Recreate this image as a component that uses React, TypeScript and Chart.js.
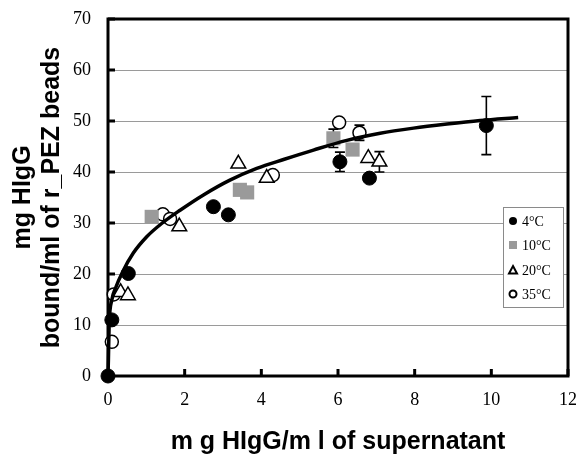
import React, { useEffect, useRef } from 'react';
import { Chart, registerables } from 'chart.js';

Chart.register(...registerables);

// ---- data ----
const xTickValues = [0, 2, 4, 6, 8, 10, 12];
const yTickValues = [0, 10, 20, 30, 40, 50, 60, 70];

const fitX = [0, 0.01, 0.03, 0.1, 0.2, 0.38, 0.66, 1.01, 1.4, 1.88, 2.49, 3.18, 3.88, 4.6, 5.36, 6.23, 7.1, 7.97, 8.84, 9.71, 10.7];
const fitY = [0, 3, 10, 14.9, 17.3, 20.4, 24.1, 27.3, 29.9, 32.5, 35.5, 38.4, 40.7, 42.5, 44.3, 46.2, 47.6, 48.6, 49.4, 50.1, 50.7];

const t4X = [0, 0.1, 0.53, 2.75, 3.14, 6.05, 6.82, 9.87];
const t4Y = [0, 11.0, 20.1, 33.2, 31.6, 42.0, 38.8, 49.1];
const t4Err = [0, 0, 0, 0, 0, 1.9, 0, 5.7];

const t10X = [1.14, 3.44, 3.63, 5.88, 6.38];
const t10Y = [31.2, 36.5, 36.0, 46.6, 44.4];
const t10Err = [0, 0, 0, 1.8, 0];

const t20X = [0.33, 0.52, 1.86, 3.4, 4.14, 6.79, 7.08];
const t20Y = [16.4, 15.8, 29.3, 41.6, 38.8, 42.7, 42.0];
const t20Err = [0, 0, 0, 0, 0, 0, 2.0];

const t35X = [0.1, 0.15, 1.43, 1.62, 4.3, 6.03, 6.56];
const t35Y = [6.7, 16.0, 31.7, 30.8, 39.4, 49.7, 47.7];
const t35Err = [0, 0, 0, 0, 0, 0, 1.5];

const seriesLabels = ['4°C', '10°C', '20°C', '35°C'];
const xTitle = 'm g HIgG/m l of supernatant';
const yTitle = ['mg HIgG', 'bound/ml of r_PEZ beads'];

const pts = (xs: number[], ys: number[]) => xs.map((x, i) => ({ x, y: ys[i] }));

const GRAY = '#9a9a9a';

const framePlugin = {
  id: 'frame',
  beforeDatasetsDraw(chart: any) {
    const { ctx, chartArea: a, scales } = chart;
    ctx.save();
    ctx.strokeStyle = '#000';
    ctx.lineWidth = 3;
    ctx.beginPath();
    xTickValues.forEach((v) => {
      const px = scales.x.getPixelForValue(v);
      ctx.moveTo(px, a.bottom);
      ctx.lineTo(px, a.bottom - 7);
    });
    yTickValues.forEach((v) => {
      const py = scales.y.getPixelForValue(v);
      ctx.moveTo(a.left, py);
      ctx.lineTo(a.left + 7, py);
    });
    ctx.stroke();
    ctx.lineWidth = 3;
    ctx.strokeRect(a.left, a.top, a.right - a.left, a.bottom - a.top);

    ctx.lineWidth = 1.6;
    chart.data.datasets.forEach((ds: any) => {
      if (!ds.errors) return;
      ds.data.forEach((p: any, i: number) => {
        const e = ds.errors[i];
        if (!e) return;
        const px = scales.x.getPixelForValue(p.x);
        const top = scales.y.getPixelForValue(p.y + e);
        const bot = scales.y.getPixelForValue(p.y - e);
        ctx.beginPath();
        ctx.moveTo(px, top);
        ctx.lineTo(px, bot);
        ctx.moveTo(px - 5, top);
        ctx.lineTo(px + 5, top);
        ctx.moveTo(px - 5, bot);
        ctx.lineTo(px + 5, bot);
        ctx.stroke();
      });
    });
    ctx.restore();
  },
};

const legendPlugin = {
  id: 'boxLegend',
  afterDraw(chart: any) {
    const { ctx, chartArea: a } = chart;
    const bx = a.right - 65;
    const by = a.top + 188;
    const bw = 60;
    const bh = 100;
    ctx.save();
    ctx.fillStyle = '#fff';
    ctx.fillRect(bx, by, bw, bh);
    ctx.strokeStyle = '#8a8a8a';
    ctx.lineWidth = 1;
    ctx.strokeRect(bx + 0.5, by + 0.5, bw, bh);
    const rows = [14, 38, 63, 87];
    ctx.font = '14px "Liberation Serif"';
    ctx.textBaseline = 'middle';
    ctx.textAlign = 'left';
    rows.forEach((dy, i) => {
      const cx = bx + 10;
      const cy = by + dy;
      ctx.beginPath();
      if (i === 0) {
        ctx.fillStyle = '#000';
        ctx.arc(cx, cy, 4, 0, Math.PI * 2);
        ctx.fill();
      } else if (i === 1) {
        ctx.fillStyle = GRAY;
        ctx.fillRect(cx - 4, cy - 4, 8, 8);
      } else if (i === 2) {
        ctx.strokeStyle = '#000';
        ctx.lineWidth = 2;
        ctx.moveTo(cx, cy - 4);
        ctx.lineTo(cx + 4, cy + 3.5);
        ctx.lineTo(cx - 4, cy + 3.5);
        ctx.closePath();
        ctx.stroke();
      } else {
        ctx.strokeStyle = '#000';
        ctx.lineWidth = 2;
        ctx.arc(cx, cy, 3.5, 0, Math.PI * 2);
        ctx.stroke();
      }
      ctx.fillStyle = '#000';
      ctx.fillText(seriesLabels[i], bx + 19, cy + 1);
    });
    ctx.restore();
  },
};

export default function App() {
  const ref = useRef<HTMLCanvasElement | null>(null);

  useEffect(() => {
    if (!ref.current) return;
    const chart = new Chart(ref.current, {
      type: 'scatter',
      data: {
        datasets: [
          {
            label: 'fit',
            data: pts(fitX, fitY),
            showLine: true,
            borderColor: '#000',
            borderWidth: 3.5,
            pointRadius: 0,
            cubicInterpolationMode: 'monotone',
            clip: false,
          } as any,
          {
            label: seriesLabels[0],
            data: pts(t4X, t4Y),
            errors: t4Err,
            pointStyle: 'circle',
            pointRadius: 7,
            backgroundColor: '#000',
            borderColor: '#000',
            borderWidth: 1,
            clip: false,
          } as any,
          {
            label: seriesLabels[1],
            data: pts(t10X, t10Y),
            errors: t10Err,
            pointStyle: 'rect',
            pointRadius: 10,
            backgroundColor: GRAY,
            borderColor: GRAY,
            borderWidth: 0,
            clip: false,
          } as any,
          {
            label: seriesLabels[2],
            data: pts(t20X, t20Y),
            errors: t20Err,
            pointStyle: 'triangle',
            pointRadius: 8.5,
            backgroundColor: '#fff',
            borderColor: '#000',
            borderWidth: 1.5,
            clip: false,
          } as any,
          {
            label: seriesLabels[3],
            data: pts(t35X, t35Y),
            errors: t35Err,
            pointStyle: 'circle',
            pointRadius: 6.5,
            backgroundColor: '#fff',
            borderColor: '#000',
            borderWidth: 1.5,
            clip: false,
          } as any,
        ],
      },
      options: {
        animation: false,
        responsive: false,
        events: [],
        layout: { autoPadding: false, padding: { top: 19, right: 11, left: 0, bottom: 0 } },
        plugins: {
          legend: { display: false },
          tooltip: { enabled: false },
        },
        scales: {
          x: {
            type: 'linear',
            min: 0,
            max: 12,
            afterBuildTicks: (s: any) => {
              s.ticks = xTickValues.map((v) => ({ value: v }));
            },
            afterFit: (s: any) => {
              s.height = 81;
              s.paddingLeft = 0;
              s.paddingRight = 0;
            },
            ticks: {
              color: '#000',
              padding: 13,
              font: { family: '"Liberation Serif"', size: 18 },
            },
            grid: { display: false, drawTicks: false },
            border: { display: false },
            title: {
              display: true,
              text: xTitle,
              color: '#000',
              font: { family: '"Liberation Sans"', size: 25, weight: 'bold' },
              padding: { top: 0, bottom: 0 },
            },
          },
          y: {
            type: 'linear',
            min: 0,
            max: 70,
            afterBuildTicks: (s: any) => {
              s.ticks = yTickValues.map((v) => ({ value: v }));
            },
            afterFit: (s: any) => {
              s.width = 108;
              s.paddingTop = 0;
              s.paddingBottom = 0;
            },
            ticks: {
              color: '#000',
              padding: 17,
              font: { family: '"Liberation Serif"', size: 18 },
            },
            grid: {
              drawTicks: false,
              color: GRAY,
              lineWidth: (c: any) => (c.tick && (c.tick.value === 0 || c.tick.value === 70) ? 0 : 1),
            },
            border: { display: false },
            title: {
              display: true,
              text: yTitle,
              color: '#000',
              font: { family: '"Liberation Sans"', size: 25, weight: 'bold', lineHeight: 1.15 },
              padding: { top: 9, bottom: 0 },
            },
          },
        },
      } as any,
      plugins: [framePlugin, legendPlugin],
    });
    return () => chart.destroy();
  }, []);

  return (
    <div style={{ position: 'absolute', left: 0, top: 0, width: 579, height: 457, background: '#fff' }}>
      <canvas ref={ref} width={579} height={457} style={{ display: 'block' }} />
    </div>
  );
}
